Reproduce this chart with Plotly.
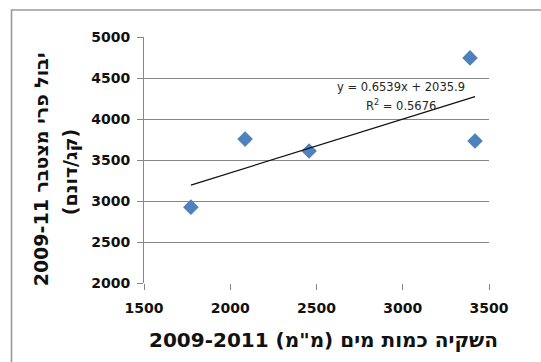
import plotly.graph_objects as go

# Data
irrigation_mm = [1772, 2086, 2457, 3390, 3419]
yield_kg_dunam = [2925, 3755, 3610, 4745, 3732]
trend_slope = 0.6539
trend_intercept = 2035.9
r_squared = 0.5676

x_ticks = [1500, 2000, 2500, 3000, 3500]
y_ticks = [2000, 2500, 3000, 3500, 4000, 4500, 5000]

x_title = 'השקיה כמות מים (מ"מ) 2009-2011'
y_title_line1 = "יבול פרי מצטבר 2009-11"
y_title_line2 = "(קג/דונם)"

grid_col = "#878787"
tick_font = dict(family="DejaVu Sans", size=14, color="#111111", weight="bold")

fig = go.Figure()

fig.add_trace(go.Scatter(
    x=irrigation_mm, y=yield_kg_dunam, mode="markers",
    marker=dict(symbol="diamond", size=12, color="#4F81BD"),
    showlegend=False, hoverinfo="x+y",
))

tx = [min(irrigation_mm), max(irrigation_mm)]
ty = [trend_slope * v + trend_intercept for v in tx]
fig.add_trace(go.Scatter(
    x=tx, y=ty, mode="lines", line=dict(color="#111111", width=1.3),
    showlegend=False, hoverinfo="skip",
))

fig.update_xaxes(
    range=[1500, 3500], tickvals=x_ticks, ticktext=[str(t) for t in x_ticks],
    showgrid=False, zeroline=False, showline=False,
    ticks="outside", ticklen=6, tickcolor=grid_col, tickwidth=1,
    tickfont=tick_font, ticklabelstandoff=6,
)
fig.update_yaxes(
    range=[2000, 5000], tickvals=y_ticks, ticktext=[str(t) for t in y_ticks],
    showgrid=True, gridcolor=grid_col, gridwidth=1, zeroline=False,
    showline=True, linecolor=grid_col, linewidth=1,
    ticks="outside", ticklen=6, tickcolor=grid_col, tickwidth=1,
    tickfont=tick_font, ticklabelstandoff=4,
)

annotations = [
    dict(text=x_title, xref="paper", yref="paper", x=0.52, y=-0.23,
         showarrow=False, xanchor="center", yanchor="middle",
         font=dict(family="DejaVu Sans", size=20, color="#111111", weight="bold")),
    dict(text=y_title_line1, xref="paper", yref="paper", x=-0.3, y=0.46,
         showarrow=False, textangle=-90, xanchor="center", yanchor="middle",
         font=dict(family="DejaVu Sans", size=19, color="#111111", weight="bold")),
    dict(text=y_title_line2, xref="paper", yref="paper", x=-0.215, y=0.45,
         showarrow=False, textangle=-90, xanchor="center", yanchor="middle",
         font=dict(family="DejaVu Sans", size=19, color="#111111", weight="bold")),
    dict(text=f"y = {trend_slope}x + {trend_intercept}", x=2990, y=4390,
         xref="x", yref="y", showarrow=False, xanchor="center", yanchor="middle",
         font=dict(family="DejaVu Sans", size=11.5, color="#262626")),
    dict(text=f"R<sup>2</sup> = {r_squared}", x=2990, y=4160,
         xref="x", yref="y", showarrow=False, xanchor="center", yanchor="middle",
         font=dict(family="DejaVu Sans", size=11.5, color="#262626")),
]

fig.update_layout(
    width=541, height=362,
    margin=dict(l=144, r=52, t=37, b=79),
    paper_bgcolor="white", plot_bgcolor="white",
    annotations=annotations,
    shapes=[dict(type="rect", xref="paper", yref="paper",
                 x0=-0.384, x1=1.4, y0=-0.6, y1=1.11,
                 line=dict(color="#9a9a9a", width=1.6), layer="below")],
)

fig.write_html("out.html")
